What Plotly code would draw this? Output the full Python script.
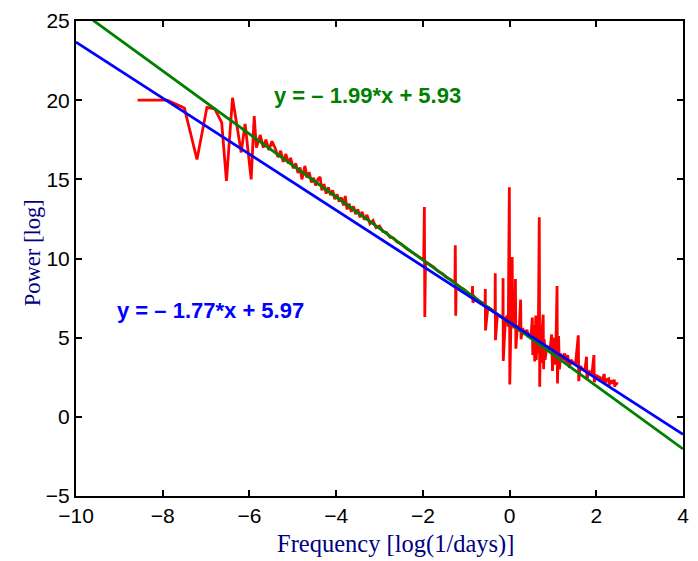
import plotly.graph_objects as go

# ---- data ----
freq_log = [
    -8.58, -7.90, -7.50, -7.21, -6.98, -6.80, -6.64, -6.53, -6.39, -6.19, -6.10, -5.96, -5.89,
    -5.84, -5.75, -5.68, -5.62, -5.55, -5.48, -5.41, -5.34,
    -5.28, -5.22, -5.16, -5.10, -5.05, -4.99, -4.93, -4.88, -4.83, -4.79, -4.74, -4.72, -4.67,
    -4.62, -4.57, -4.52, -4.47, -4.42, -4.37, -4.33, -4.28, -4.23, -4.18, -4.13, -4.08, -4.03,
    -3.98, -3.93, -3.88, -3.83, -3.79, -3.75, -3.70, -3.65, -3.60, -3.55, -3.50, -3.45, -3.40,
    -3.35, -3.29, -3.22, -3.15, -3.08, -3.00, -2.92, -2.84, -2.76, -2.68, -2.60, -2.52, -2.44,
    -2.36, -2.28, -2.20, -2.12, -2.05,
    -1.98, -1.965, -1.955, -1.94, -1.85, -1.75, -1.65, -1.55, -1.45, -1.35, -1.26, -1.252, -1.242,
    -1.23, -1.15, -1.05, -0.95, -0.86, -0.855, -0.845, -0.80, -0.70, -0.62, -0.565, -0.56, -0.555,
    -0.50, -0.42, -0.36, -0.335, -0.33, -0.325, -0.28, -0.22, -0.17, -0.155, -0.15, -0.145, -0.10,
    -0.06, -0.03, -0.005, 0.005, 0.03, 0.06, 0.07, 0.10, 0.12, 0.135, 0.145, 0.18, 0.22, 0.255,
    0.265, 0.30, 0.35, 0.40, 0.45, 0.50, 0.525, 0.535, 0.56, 0.58, 0.605, 0.615, 0.64, 0.66, 0.685,
    0.695, 0.71, 0.73, 0.755, 0.775, 0.785, 0.80, 0.82, 0.86, 0.90, 0.94, 0.97, 0.99, 1.01, 1.04,
    1.07, 1.095, 1.105, 1.13, 1.15, 1.18, 1.22, 1.27, 1.30, 1.34, 1.38, 1.42, 1.47, 1.52, 1.585,
    1.595, 1.63, 1.69, 1.74, 1.775, 1.785, 1.83, 1.90, 1.945, 1.955, 2.00, 2.08, 2.13, 2.185, 2.195,
    2.24, 2.285, 2.295, 2.34, 2.38, 2.415, 2.425, 2.46, 2.49,
]
power_log = [
    20.0, 20.0, 19.5, 16.25, 19.55, 19.45, 18.6, 14.9, 20.15, 16.7, 18.5, 15.0, 19.0,
    17.0, 17.8, 17.0, 17.5, 16.85, 17.4, 17.0, 16.4,
    16.8, 16.1, 16.6, 16.0, 16.35, 15.7, 16.0, 15.4, 15.75, 15.0, 15.5, 15.85, 15.1,
    15.45, 14.8, 15.1, 14.6, 15.0, 15.15, 14.3, 14.7, 14.1, 14.5, 14.0, 14.3, 13.75,
    14.05, 13.6, 13.85, 13.35, 13.95, 13.1, 13.45, 12.95, 13.3, 12.8, 13.1, 12.6, 12.95,
    12.45, 12.75, 12.2, 12.4, 11.95, 12.05, 11.7, 11.65, 11.35, 11.3, 11.05, 10.95, 10.75,
    10.6, 10.45, 10.3, 10.15, 10.0,
    9.9, 13.25, 6.3, 9.8, 9.65, 9.45, 9.2, 9.05, 8.8, 8.65, 8.45, 10.83, 6.38,
    8.4, 8.2, 8.05, 7.8, 7.6, 8.26, 7.2, 7.55, 7.3, 7.2, 7.05, 8.07, 5.46,
    6.95, 6.75, 6.65, 6.6, 9.07, 4.84, 6.5, 6.35, 6.3, 6.2, 8.76, 3.53, 6.0,
    6.4, 5.7, 14.5, 2.04, 6.3, 10.1, 6.1, 5.6, 6.3, 8.7, 4.3, 5.8, 5.4, 7.4,
    4.9, 5.6, 5.2, 5.5, 5.0, 5.3, 6.27, 3.9, 5.8, 3.5, 6.4, 3.6, 5.5, 4.0, 12.6,
    1.9, 5.2, 3.4, 5.6, 6.45, 3.0, 4.9, 3.6, 4.5, 4.2, 4.4, 5.2, 2.9, 5.0, 3.3,
    4.6, 8.26, 2.1, 5.1, 3.0, 4.0, 3.6, 4.0, 3.4, 3.9, 3.1, 3.6, 3.4, 3.3, 5.15,
    2.25, 3.2, 3.0, 3.0, 3.8, 2.35, 2.9, 2.7, 3.9, 2.2, 2.6, 2.5, 2.3, 2.7, 2.1,
    2.35, 2.4, 2.0, 2.3, 2.1, 2.35, 1.9, 2.15, 2.03,
]

fit_blue = {"slope": -1.77, "intercept": 5.97}
fit_green = {"slope": -1.99, "intercept": 5.93}
x_range = [-10, 4]
y_range = [-5, 25]
x_ticks = [-10, -8, -6, -4, -2, 0, 2, 4]
y_ticks = [-5, 0, 5, 10, 15, 20, 25]


def fit_line(fit):
    return [fit["slope"] * x + fit["intercept"] for x in x_range]


fig = go.Figure()
fig.add_trace(go.Scatter(x=freq_log, y=power_log, mode="lines",
                         line=dict(color="#FF0000", width=2.8), showlegend=False))
fig.add_trace(go.Scatter(x=x_range, y=fit_line(fit_green), mode="lines",
                         line=dict(color="#008000", width=2.8), showlegend=False))
fig.add_trace(go.Scatter(x=x_range, y=fit_line(fit_blue), mode="lines",
                         line=dict(color="#0000FF", width=2.8), showlegend=False))

eq_font = dict(family="Liberation Sans, Arial, sans-serif", size=22)
fig.add_annotation(x=-3.27, y=20.27, xref="x", yref="y", showarrow=False,
                   xanchor="center", yanchor="middle",
                   text="<b>y = – %.2f*x + %.2f</b>" % (-fit_green["slope"], fit_green["intercept"]),
                   font=dict(color="#008000", **eq_font))
fig.add_annotation(x=-6.9, y=6.71, xref="x", yref="y", showarrow=False,
                   xanchor="center", yanchor="middle",
                   text="<b>y = – %.2f*x + %.2f</b>" % (-fit_blue["slope"], fit_blue["intercept"]),
                   font=dict(color="#0000FF", **eq_font))

serif = "Liberation Serif, Times New Roman, serif"
fig.add_annotation(x=0.527, y=(496 - 545) / 482, xref="paper", yref="paper",
                   xanchor="center", yanchor="middle",
                   showarrow=False, text="Frequency [log(1/days)]",
                   font=dict(family=serif, size=24.5, color="#000080"))
fig.add_annotation(x=(32 - 76) / 613, y=0.512, xref="paper", yref="paper", textangle=-90,
                   xanchor="center", yanchor="middle",
                   showarrow=False, text="Power [log]",
                   font=dict(family=serif, size=22.5, color="#000080"))

axis_common = dict(showline=True, linecolor="black", linewidth=2, mirror="ticks",
                   ticks="inside", ticklen=6, tickwidth=1.5, tickcolor="black",
                   showgrid=False, zeroline=False,
                   tickfont=dict(family="Liberation Sans, Arial, sans-serif", size=21, color="black"))
fig.update_xaxes(range=x_range, tickvals=x_ticks, **axis_common)
fig.update_yaxes(range=y_range, tickvals=y_ticks, **axis_common)

fig.update_layout(width=698, height=561, plot_bgcolor="white", paper_bgcolor="white",
                  margin=dict(l=76, r=9, t=14, b=65, pad=0))

fig.write_html("out.html", config={"displayModeBar": False},
               post_script="document.body.style.margin='0';document.body.style.overflow='hidden';")
